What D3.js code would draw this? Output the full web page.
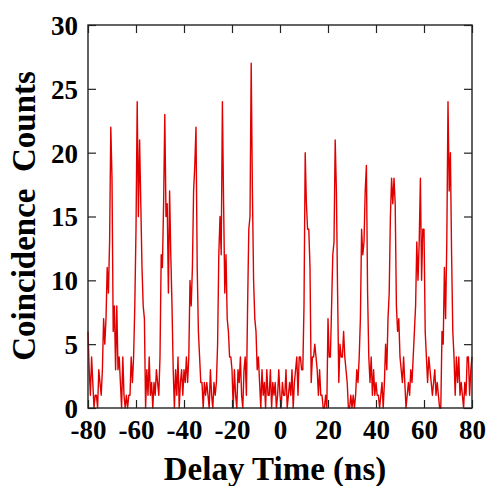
<!DOCTYPE html>
<html>
<head>
<meta charset="utf-8">
<script src="https://cdn.jsdelivr.net/npm/d3@7"></script>
<style>
  body { margin: 0; background: #fff; }
  svg text { font-family: "Liberation Serif", "Times New Roman", serif; font-weight: bold; fill: #000; }
</style>
</head>
<body>
<div id="container"></div>
<script>
const width = 488,
  height = 486,
  margin = {top: 25, right: 16, bottom: 78, left: 88};

// histogram of coincidence counts, 0.5 ns bins starting at -80 ns
const binStart = -80;
const binWidth = 0.5;
const counts = [
  6,3,1,4,2,0,1,1,0,3,
  2,1,3,7,5,7,11,9,13,22,
  18,6,8,3,8,3,4,2,0,4,
  1,0,1,0,1,1,4,2,4,8,
  14,24,15,21,16,11,8,7,0,3,
  1,4,1,2,0,2,1,3,2,1,
  4,12,11,16,23,15,16,9,17,12,
  8,3,0,3,1,4,0,2,3,1,
  3,2,4,2,4,10,8,11,17,19,
  22,11,6,4,2,2,0,2,1,2,
  1,0,3,1,0,2,1,2,5,12,
  15,12,24,16,9,12,7,6,4,4,
  3,0,3,1,0,3,2,4,1,0,
  3,4,1,8,14,15,27,17,10,7,
  6,3,4,2,0,3,1,2,0,3,
  1,1,3,0,2,1,2,0,1,3,
  1,0,2,1,1,3,0,1,2,1,
  3,0,2,3,4,1,4,4,3,3,
  8,20,16,14,14,11,2,4,4,5,
  4,3,1,3,1,1,0,0,1,0,
  7,4,4,8,12,13,21,17,9,2,
  5,4,4,6,4,3,2,0,0,1,
  0,1,0,1,3,2,4,7,14,12,
  13,17,19,9,4,2,4,1,3,1,
  2,1,1,0,1,2,0,2,5,3,
  7,9,15,18,16,18,16,8,6,7,
  4,3,2,4,2,0,1,2,1,3,
  2,4,6,8,13,10,13,18,10,14,
  14,6,4,2,4,3,2,1,2,3,
  1,2,1,0,0,6,5,11,7,13,
  24,17,20,12,6,4,1,4,2,4,
  1,2,1,0,2,1,4,4,1,3,4
];

const xTicks = [-80, -60, -40, -20, 0, 20, 40, 60, 80];
const yTicks = [0, 5, 10, 15, 20, 25, 30];
const xTitle = "Delay Time (ns)";
const yTitle = "Coincidence\u00a0\u00a0Counts";

const data = counts.map((c, i) => ({t: binStart + i * binWidth, c: c}));

const xScale = d3.scaleLinear()
  .domain([-80, 80])
  .range([margin.left, width - margin.right]);

const yScale = d3.scaleLinear()
  .domain([0, 30])
  .range([height - margin.bottom, margin.top]);

const svg = d3.select("#container")
  .append("svg")
  .attr("width", width)
  .attr("height", height);

// data line
const line = d3.line()
  .x(d => xScale(d.t))
  .y(d => yScale(d.c));

svg.append("path")
  .datum(data)
  .attr("fill", "none")
  .attr("stroke", "#e00000")
  .attr("stroke-width", 1.4)
  .attr("stroke-linejoin", "round")
  .attr("d", line);

// axes with inward ticks on all four sides
const tickLen = 8;

const xAxis = svg.append("g")
  .attr("transform", `translate(0,${height - margin.bottom})`)
  .call(d3.axisBottom(xScale).tickValues(xTicks).tickSize(-tickLen).tickPadding(12).tickFormat(d => String(d)));

const xAxisTop = svg.append("g")
  .attr("transform", `translate(0,${margin.top})`)
  .call(d3.axisTop(xScale).tickValues(xTicks).tickSize(-tickLen).tickFormat(""));

const yAxis = svg.append("g")
  .attr("transform", `translate(${margin.left},0)`)
  .call(d3.axisLeft(yScale).tickValues(yTicks).tickSize(-tickLen).tickPadding(10).tickFormat(d => String(d)));

const yAxisRight = svg.append("g")
  .attr("transform", `translate(${width - margin.right},0)`)
  .call(d3.axisRight(yScale).tickValues(yTicks).tickSize(-tickLen).tickFormat(""));

[xAxis, xAxisTop, yAxis, yAxisRight].forEach(g => {
  g.select(".domain").remove();
  g.selectAll(".tick line").attr("stroke", "#222").attr("stroke-width", 1.2);
  g.selectAll("text").attr("font-size", 27).attr("font-family", null);
});

xAxis.selectAll("text").attr("dy", "0.71em");
yAxis.selectAll("text").attr("dy", "0.35em");

// frame
svg.append("rect")
  .attr("x", margin.left)
  .attr("y", margin.top)
  .attr("width", width - margin.left - margin.right)
  .attr("height", height - margin.top - margin.bottom)
  .attr("fill", "none")
  .attr("stroke", "#222")
  .attr("stroke-width", 1.4);

// titles
svg.append("text")
  .attr("x", 275)
  .attr("y", 480)
  .attr("text-anchor", "middle")
  .attr("font-size", 33)
  .text(xTitle);

svg.append("text")
  .attr("transform", `translate(35,216) rotate(-90)`)
  .attr("text-anchor", "middle")
  .attr("font-size", 33)
  .text(yTitle);
</script>
</body>
</html>
